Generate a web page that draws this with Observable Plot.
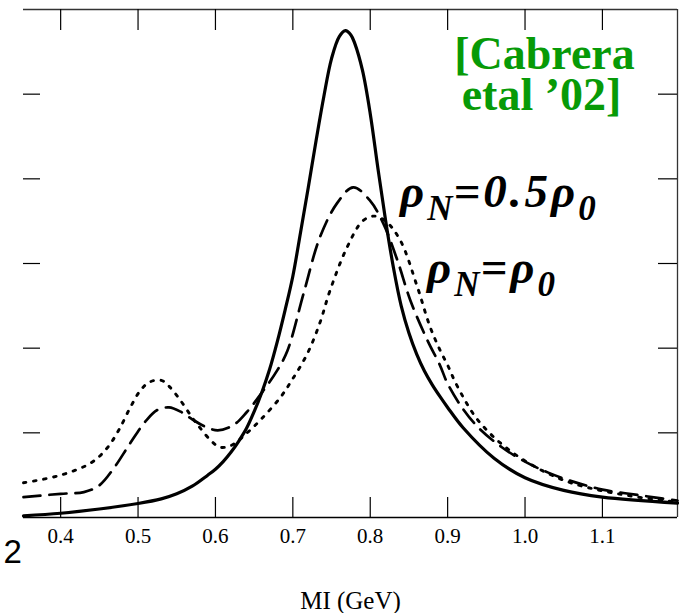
<!DOCTYPE html>
<html><head><meta charset="utf-8">
<script src="https://cdn.jsdelivr.net/npm/d3@7"></script>
<script src="https://cdn.jsdelivr.net/npm/@observablehq/plot@0.6"></script>
<style>body{margin:0;background:#fff} svg{display:block;overflow:visible}</style>
</head><body><div id="chart"></div>
<script>
// Vacuum (solid)
const solidM = [0.352,0.40,0.45,0.50,0.53,0.55,0.57,0.59,0.60,0.61,0.62,0.63,0.64,0.65,0.66,0.67,0.68,0.69,0.70,0.71,0.72,0.73,0.74,0.75,0.76,0.768,0.775,0.78,0.79,0.80,0.81,0.82,0.83,0.84,0.85,0.86,0.87,0.88,0.89,0.90,0.92,0.96,1.00,1.05,1.10,1.197];
const solidV = [0.02,0.05,0.10,0.165,0.22,0.28,0.37,0.50,0.57,0.66,0.77,0.90,1.05,1.25,1.48,1.75,2.08,2.45,2.85,3.37,3.90,4.45,4.97,5.42,5.68,5.75,5.70,5.60,5.28,4.77,4.12,3.50,2.95,2.50,2.18,1.93,1.73,1.57,1.43,1.30,1.06,0.70,0.47,0.32,0.24,0.17];
// rho_N = 0.5 rho_0 (dashed)
const dashM = [0.352,0.40,0.43,0.45,0.47,0.49,0.51,0.525,0.54,0.555,0.57,0.585,0.603,0.623,0.64,0.662,0.68,0.693,0.714,0.735,0.757,0.778,0.80,0.817,0.835,0.852,0.874,0.89,0.90,0.92,0.94,0.97,1.00,1.03,1.06,1.10,1.15,1.197];
const dashV = [0.24,0.28,0.30,0.38,0.60,0.88,1.14,1.27,1.30,1.25,1.16,1.08,1.03,1.09,1.24,1.50,1.74,1.97,2.65,3.31,3.71,3.90,3.74,3.47,3.04,2.56,2.09,1.80,1.58,1.28,1.06,0.83,0.66,0.53,0.43,0.33,0.26,0.20];
// rho_N = rho_0 (dotted)
const dotM = [0.352,0.40,0.44,0.46,0.475,0.49,0.503,0.515,0.53,0.54,0.555,0.57,0.58,0.595,0.606,0.62,0.641,0.66,0.684,0.70,0.719,0.735,0.748,0.77,0.79,0.805,0.82,0.839,0.861,0.877,0.89,0.90,0.912,0.94,0.985,1.05,1.12,1.197];
const dotV = [0.41,0.50,0.65,0.82,1.03,1.30,1.50,1.60,1.62,1.55,1.38,1.18,1.06,0.90,0.83,0.85,1.00,1.17,1.42,1.64,1.94,2.30,2.68,3.19,3.50,3.56,3.50,3.27,2.72,2.26,1.98,1.80,1.56,1.14,0.76,0.44,0.28,0.18];

const xDomain = [0.352, 1.197];
const yDomain = [0, 6];
const xTicks = [0.4,0.5,0.6,0.7,0.8,0.9,1.0,1.1];
const yTicks = [1,2,3,4,5];
const xLabel = "MI (GeV)";
const cornerText = "2";
const citation1 = "[Cabrera";
const citation2 = "etal \u201902]";
const labelHalf = ["\u03C1","N","=0.5\u03C1","0"];
const labelFull = ["\u03C1","N","=\u03C1","0"];
const labelHalfAt = [0.839, 3.66];
const labelFullAt = [0.874, 2.76];

const serif = "'Liberation Serif','Times New Roman',serif";
const toRows = (ms, vs) => ms.map((m, i) => ({m, v: vs[i]}));

const chart = Plot.plot({
  width: 679, height: 613,
  marginLeft: 23, marginRight: 2, marginTop: 9, marginBottom: 96,
  x: {domain: xDomain, axis: null},
  y: {domain: yDomain, axis: null},
  marks: [
    Plot.ruleY([yDomain[0]], {stroke: "#000", strokeWidth: 1.4}),
    Plot.ruleY([yDomain[1]], {stroke: "#333", strokeWidth: 1.3}),
    Plot.ruleX([xDomain[1]], {stroke: "#333", strokeWidth: 1.3}),
    Plot.tickX(xTicks, {x: d => d, insetTop: 488, stroke: "#000", strokeWidth: 1.2}),
    Plot.tickX(xTicks, {x: d => d, insetBottom: 487, stroke: "#000", strokeWidth: 1.2}),
    Plot.tickY(yTicks, {y: d => d, insetRight: 637, stroke: "#000", strokeWidth: 1.2}),
    Plot.tickY(yTicks, {y: d => d, insetLeft: 635, stroke: "#000", strokeWidth: 1.2}),
    Plot.axisX({ticks: xTicks, tickFormat: d3.format(".1f"), tickSize: 0, tickPadding: 11, fontSize: 21, fontFamily: serif, label: null, color: "#000"}),
    Plot.text([xLabel], {frameAnchor: "bottom", dy: 91, lineAnchor: "bottom", fontSize: 25, fontFamily: serif, fill: "#000"}),
    Plot.text([cornerText], {frameAnchor: "bottom-left", dx: -20, dy: 45, textAnchor: "start", lineAnchor: "bottom", fontSize: 33, fontFamily: "'Liberation Sans',Arial,sans-serif", fill: "#000"}),
    Plot.text([citation1], {frameAnchor: "top-right", dx: -133, dy: 59, textAnchor: "middle", lineAnchor: "bottom", fontSize: 46, fontWeight: "bold", fontFamily: serif, fill: "#079a07"}),
    Plot.text([citation2], {frameAnchor: "top-right", dx: -136, dy: 100, textAnchor: "middle", lineAnchor: "bottom", fontSize: 46, fontWeight: "bold", fontFamily: serif, fill: "#079a07"}),
    Plot.line(toRows(dotM, dotV), {x: "m", y: "v", curve: "catmull-rom", stroke: "#000", strokeWidth: 2.9, strokeDasharray: "2.6,7.6"}),
    Plot.line(toRows(dashM, dashV), {x: "m", y: "v", curve: "catmull-rom", stroke: "#000", strokeWidth: 2.7, strokeDasharray: "17,9"}),
    Plot.line(toRows(solidM, solidV), {x: "m", y: "v", curve: "catmull-rom", stroke: "#000", strokeWidth: 3.2})
  ]
});
document.getElementById("chart").append(chart);

// rich labels with subscripts, positioned through Plot's own scales
const sx = chart.scale("x"), sy = chart.scale("y");
const svg = d3.select(chart);
function richLabel(parts, at) {
  const t = svg.append("text")
    .attr("x", sx.apply(at[0])).attr("y", sy.apply(at[1]))
    .attr("text-anchor", "start")
    .attr("font-family", serif).attr("font-weight", "bold").attr("font-style", "italic")
    .attr("font-size", 47).attr("fill", "#000");
  parts.forEach((p, i) => {
    const sub = i % 2 === 1;
    t.append("tspan").text(p)
      .attr("font-size", sub ? 35 : 47)
      .attr("letter-spacing", sub ? 1 : 3)
      .attr("dy", sub ? 13 : (i === 0 ? 0 : -13));
  });
}
richLabel(labelHalf, labelHalfAt);
richLabel(labelFull, labelFullAt);
</script>
</body></html>
